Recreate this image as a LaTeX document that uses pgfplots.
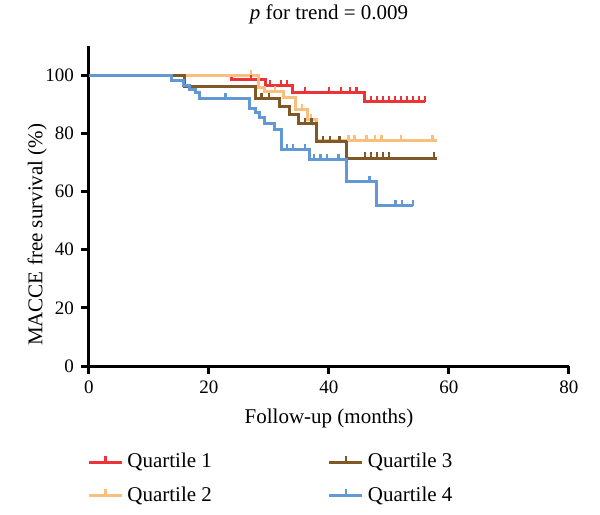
\documentclass[border=0pt]{standalone}
\usepackage{pgfplots}
\pgfplotsset{compat=1.18}
\usepackage{fontspec}
\setmainfont{Liberation Serif}
\definecolor{q1}{RGB}{236,52,56}
\definecolor{q2}{RGB}{250,190,125}
\definecolor{q3}{RGB}{128,88,38}
\definecolor{q4}{RGB}{98,152,212}
\pgfdeclareplotmark{cens}{\pgfpathmoveto{\pgfpointorigin}\pgfpathlineto{\pgfpoint{0pt}{2.8pt}}\pgfusepathqstroke}
\begin{document}
\begin{tikzpicture}
\begin{axis}[
  scale only axis, width=240bp, height=160bp,
  xmin=0, xmax=80, ymin=0, ymax=110,
  axis lines=left, axis line style={-, line width=1.5bp},
  xtick={0,20,40,60,80}, ytick={0,20,40,60,80,100},
  tick style={line width=1.5bp, black}, tick align=outside, major tick length=4bp,
  /pgf/number format/assume math mode=true,
  ticklabel style={font=\fontsize{9.5bp}{11bp}\selectfont},
  xlabel={Follow-up (months)},
  ylabel={MACCE free survival (\%)},
  label style={font=\fontsize{10.5bp}{12bp}\selectfont},
  xlabel style={at={(axis description cs:0.5,0)}, anchor=center, yshift=-26bp},
  ylabel style={at={(axis description cs:-0.108,0.41)}, anchor=center, rotate=0},
  title={\textit{p} for trend = 0.009},
  title style={at={(axis description cs:0.5,1)}, anchor=center, yshift=10bp, font=\fontsize{10.5bp}{12bp}\selectfont},
  clip=false,
  legend columns=2,
  legend style={at={(axis description cs:0,0)}, anchor=north west, xshift=-4bp, yshift=-39.5bp, draw=none, fill=none,
    font=\fontsize{10.5bp}{12bp}\selectfont, row sep=4bp,
    /tikz/every even column/.append style={column sep=56bp}},
  legend cell align=left,
]
\addlegendimage{legend image code/.code={\draw[q1,line width=1.5bp] (0bp,0bp)--(16.5bp,0bp); \draw[q1,line width=1.3bp] (8.25bp,0bp)--(8.25bp,3.2bp);}}
\addlegendentry{Quartile 1}
\addlegendimage{legend image code/.code={\draw[q3,line width=1.5bp] (0bp,0bp)--(16.5bp,0bp); \draw[q3,line width=1.3bp] (8.25bp,0bp)--(8.25bp,3.2bp);}}
\addlegendentry{Quartile 3}
\addlegendimage{legend image code/.code={\draw[q2,line width=1.5bp] (0bp,0bp)--(16.5bp,0bp); \draw[q2,line width=1.3bp] (8.25bp,0bp)--(8.25bp,3.2bp);}}
\addlegendentry{Quartile 2}
\addlegendimage{legend image code/.code={\draw[q4,line width=1.5bp] (0bp,0bp)--(16.5bp,0bp); \draw[q4,line width=1.3bp] (8.25bp,0bp)--(8.25bp,3.2bp);}}
\addlegendentry{Quartile 4}

% Quartile 1
\addplot[const plot, q1, line width=1.5bp, forget plot] coordinates {
 (0,100) (23.7,98.4) (29.5,96.5) (34,93.9) (46,90.8) (56,90.8)};
\addplot[only marks, mark=cens, q1, mark options={line width=1.3bp}, forget plot] coordinates {
 (27,98.4) (30.2,96.5) (32,96.5) (33,96.5)
 (36,93.9) (40,93.9) (42,93.9) (43.5,93.9) (44.6,93.9)
 (47,90.8) (48,90.8) (49,90.8) (50,90.8) (51,90.8) (52,90.8) (53,90.8) (54,90.8) (55,90.8) (56,90.8)};
% Quartile 2
\addplot[const plot, q2, line width=1.5bp, forget plot] coordinates {
 (0,100) (28.2,95.8) (29.3,94.4) (32.5,92.2) (34.5,88.3) (36.5,84.8) (38,77.5) (58,77.5)};
\addplot[only marks, mark=cens, q2, mark options={line width=1.3bp}, forget plot] coordinates {
 (27,100) (31,94.4) (35.5,88.3) (37,84.8)
 (43.3,77.5) (44.3,77.5) (46.3,77.5) (47.7,77.5) (48.8,77.5) (52,77.5) (57.3,77.5)};
% Quartile 3
\addplot[const plot, q3, line width=1.5bp, forget plot] coordinates {
 (0,100) (16,96.2) (27.8,91.8) (31.8,89.3) (33.5,86.4) (35,83.5) (37.9,77.2) (42.9,71.5) (58,71.5)};
\addplot[only marks, mark=cens, q3, mark options={line width=1.3bp}, forget plot] coordinates {
 (28.8,91.8) (30,91.8) (36,83.5) (37.1,83.5)
 (39,77.2) (40.2,77.2) (41.8,77.2)
 (46,71.5) (47,71.5) (48,71.5) (49,71.5) (50,71.5) (57.5,71.5)};
% Quartile 4
\addplot[const plot, q4, line width=1.5bp, forget plot] coordinates {
 (0,100) (13.8,98.0) (15.7,96.3) (16.8,95.1) (17.7,94.0) (18.5,92.0) (26.8,88.5) (27.7,87.0) (28.5,85.5) (29.3,83.5) (31,81.2) (32.1,74.4) (36.8,70.9) (42.9,63.4) (47.9,55.1) (54,55.1)};
\addplot[only marks, mark=cens, q4, mark options={line width=1.3bp}, forget plot] coordinates {
 (22.8,92.0) (33,74.4) (34,74.4) (36,74.4)
 (37.5,70.9) (38.6,70.9) (39.7,70.9) (41.6,70.9)
 (46.8,63.4) (51.1,55.1) (52.2,55.1) (54,55.1)};
\end{axis}
\pgfresetboundingbox
\path (-44.5bp,-74.5bp) rectangle (255.5bp,183bp);
\end{tikzpicture}
\end{document}
